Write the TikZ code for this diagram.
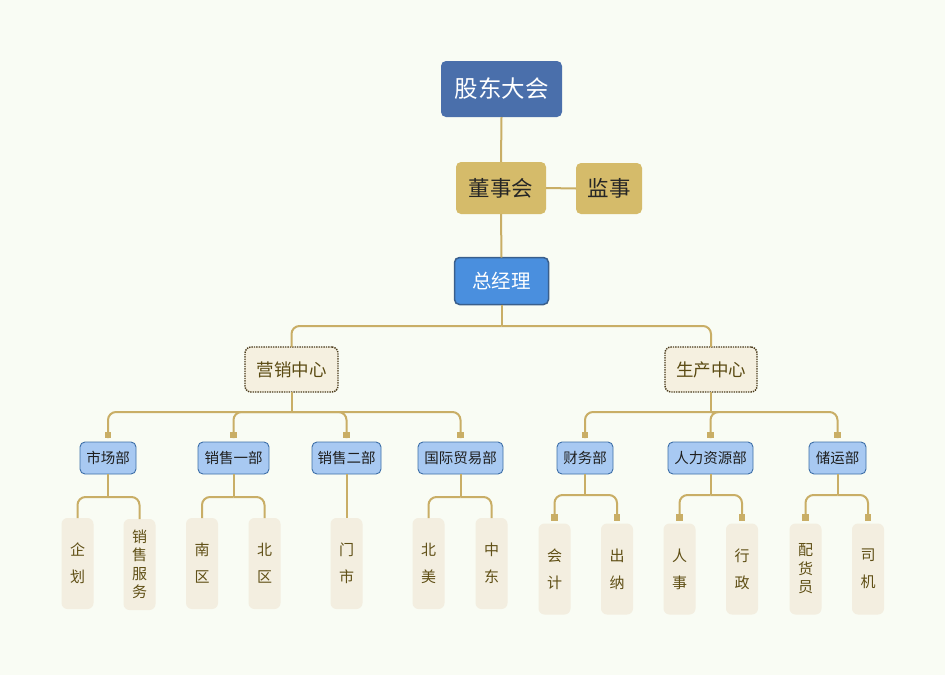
\documentclass[tikz,border=0pt]{standalone}
\usepackage{fontspec}
\setmainfont{Noto Sans CJK SC}
\usetikzlibrary{calc}
\definecolor{bg}{HTML}{F9FCF4}
\definecolor{gold}{HTML}{C9AE66}
\definecolor{gdblue}{HTML}{4A6FAB}
\definecolor{boardgold}{HTML}{D5BB6A}
\definecolor{mgrblue}{HTML}{4A8FDE}
\definecolor{mgrborder}{HTML}{3A5F8C}
\definecolor{ctrfill}{HTML}{F5F0E0}
\definecolor{ctrborder}{HTML}{4A3A1A}
\definecolor{ctrtext}{HTML}{5A4A12}
\definecolor{deptfill}{HTML}{A8C9F2}
\definecolor{deptborder}{HTML}{3D6FA8}
\definecolor{leaffill}{HTML}{F3EEE0}
\definecolor{leaftext}{HTML}{5F4F15}
\begin{document}
\begin{tikzpicture}[x=1pt,y=-1pt,
  every node/.style={inner sep=0pt, outer sep=0pt, align=center},
  topbox/.style={rounded corners=5pt, fill=gdblue, text=white, font=\fontsize{23.5}{23.5}\selectfont},
  boardbox/.style={rounded corners=5pt, fill=boardgold, text=black!85, font=\fontsize{21.5}{21.5}\selectfont},
  mgrbox/.style={rounded corners=5pt, fill=mgrblue, draw=mgrborder, line width=1.5pt, text=white, font=\fontsize{19.5}{19.5}\selectfont},
  ctrbox/.style={rounded corners=6pt, fill=ctrfill, draw=ctrborder, densely dotted, line width=1.4pt, text=ctrtext, font=\fontsize{17.5}{17.5}\selectfont, minimum height=45pt},
  deptbox/.style={rounded corners=5pt, fill=deptfill, draw=deptborder, line width=0.9pt, text=black!88, font=\fontsize{14.5}{14.5}\selectfont, minimum height=32pt},
  leafbox/.style={rounded corners=6pt, fill=leaffill, text=leaftext, minimum width=32pt, minimum height=91pt, font=\fontsize{15}{27}\selectfont},
  leafdense/.style={leafbox, font=\fontsize{15}{18.5}\selectfont},
  conn/.style={draw=gold, line width=2pt},
  bus/.style={conn, rounded corners=8pt},
  sq/.style={fill=gold, minimum size=6.5pt, inner sep=0pt}
]
\fill[bg] (0,0) rectangle (945,675);
\useasboundingbox (0,0) rectangle (945,675);

% top levels
\node[topbox, minimum width=121pt, minimum height=56pt] (gd) at (501.5,89) {股东大会};
\node[boardbox, minimum width=90pt, minimum height=52pt] (dsh) at (501,188) {董事会};
\node[boardbox, minimum width=66pt, minimum height=51pt] (js) at (609,188.5) {监事};
\node[mgrbox, minimum width=94pt, minimum height=47pt] (zjl) at (501.5,281) {总经理};

\node[ctrbox, minimum width=93pt] (yx) at (291.5,369.5) {营销中心};
\node[ctrbox, minimum width=92pt] (sc) at (711,369.5) {生产中心};

% departments
\node[deptbox, minimum width=56pt] (d1) at (108,458) {市场部};
\node[deptbox, minimum width=71pt] (d2) at (233.5,458) {销售一部};
\node[deptbox, minimum width=69pt] (d3) at (346.5,458) {销售二部};
\node[deptbox, minimum width=85pt] (d4) at (460.5,458) {国际贸易部};
\node[deptbox, minimum width=56pt] (d5) at (585,458) {财务部};
\node[deptbox, minimum width=85pt] (d6) at (710.5,458) {人力资源部};
\node[deptbox, minimum width=57pt] (d7) at (837.5,458) {储运部};

% leaves left
\node[leafbox] (l1) at (77.5,563.5) {企\\划};
\node[leafdense] (l2) at (139.5,564.5) {销\\售\\服\\务};
\node[leafbox] (l3) at (202,563.5) {南\\区};
\node[leafbox] (l4) at (264.5,563.5) {北\\区};
\node[leafbox] (l5) at (346.5,563.5) {门\\市};
\node[leafbox] (l6) at (428.5,563.5) {北\\美};
\node[leafbox] (l7) at (491.5,563.5) {中\\东};
% leaves right
\node[leafbox] (r1) at (554.5,569) {会\\计};
\node[leafbox] (r2) at (617,569) {出\\纳};
\node[leafbox] (r3) at (679.5,569) {人\\事};
\node[leafbox] (r4) at (742,569) {行\\政};
\node[leafdense] (r5) at (805.5,569) {配\\货\\员};
\node[leafbox] (r6) at (868,569) {司\\机};

% connectors top
\draw[conn] (gd.south) -- (dsh.north);
\draw[conn] (dsh.east) -- (js.west);
\draw[conn] (dsh.south) -- (zjl.north);

% manager to centers
\coordinate (j0) at (zjl.south |- 0,326);
\draw[conn] (zjl.south) -- (j0);
\draw[bus] (j0) -| (yx.north);
\draw[bus] (j0) -| (sc.north);

% centers to departments
\coordinate (j1) at (yx.south |- 0,412);
\draw[conn] (yx.south) -- (j1);
\foreach \d in {d1,d2,d3,d4} {
  \draw[bus] (j1) -| ([yshift=4pt]\d.north);
  \node[sq] at ([yshift=7pt]\d.north) {};
}
\coordinate (j2) at (sc.south |- 0,412);
\draw[conn] (sc.south) -- (j2);
\foreach \d in {d5,d6,d7} {
  \draw[bus] (j2) -| ([yshift=4pt]\d.north);
  \node[sq] at ([yshift=7pt]\d.north) {};
}

% departments to leaves (left group)
\coordinate (k1) at (d1.south |- 0,497);
\draw[conn] (d1.south) -- (k1);
\draw[bus] (k1) -| (l1.north);
\draw[bus] (k1) -| (l2.north);
\coordinate (k2) at (d2.south |- 0,497);
\draw[conn] (d2.south) -- (k2);
\draw[bus] (k2) -| (l3.north);
\draw[bus] (k2) -| (l4.north);
\draw[conn] (d3.south) -- (l5.north);
\coordinate (k4) at (d4.south |- 0,497);
\draw[conn] (d4.south) -- (k4);
\draw[bus] (k4) -| (l6.north);
\draw[bus] (k4) -| (l7.north);

% departments to leaves (right group)
\coordinate (k5) at (d5.south |- 0,495);
\draw[conn] (d5.south) -- (k5);
\draw[bus] (k5) -| ([yshift=4pt]r1.north);
\draw[bus] (k5) -| ([yshift=4pt]r2.north);
\coordinate (k6) at (d6.south |- 0,495);
\draw[conn] (d6.south) -- (k6);
\draw[bus] (k6) -| ([yshift=4pt]r3.north);
\draw[bus] (k6) -| ([yshift=4pt]r4.north);
\coordinate (k7) at (d7.south |- 0,495);
\draw[conn] (d7.south) -- (k7);
\draw[bus] (k7) -| ([yshift=4pt]r5.north);
\draw[bus] (k7) -| ([yshift=4pt]r6.north);
\foreach \r in {r1,r2,r3,r4,r5,r6} {
  \node[sq] at ([yshift=6pt]\r.north) {};
}
\end{tikzpicture}
\end{document}
